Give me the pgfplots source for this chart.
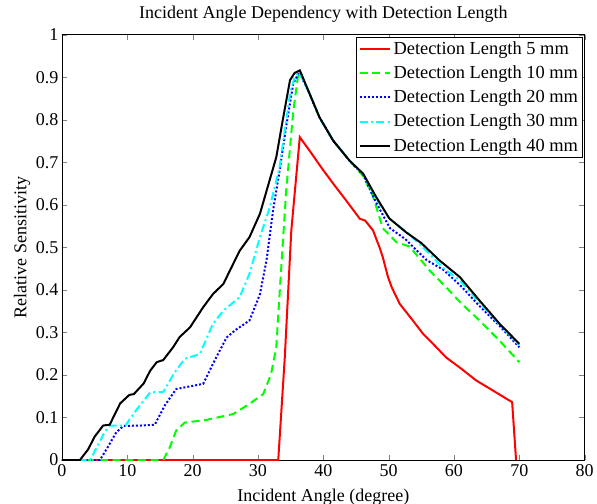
\documentclass[border=0pt]{standalone}
\usepackage{fontspec}
\setmainfont{Liberation Serif}
\usepackage{pgfplots}
\pgfplotsset{compat=1.18}
\definecolor{mgreen}{RGB}{0,255,0}
\definecolor{mcyan}{RGB}{0,255,255}
\definecolor{mblue}{RGB}{0,0,255}
\definecolor{mred}{RGB}{255,0,0}
\begin{document}
\begin{tikzpicture}
\path[use as bounding box] (-46.5pt,-33pt) rectangle (401.25pt,345pt);
\begin{axis}[
  at={(0,0)}, anchor=south west,
  width=392pt, height=319pt, scale only axis,
  xmin=0, xmax=80, ymin=0, ymax=1,
  xtick={0,10,...,80}, ytick={0,0.1,...,1},
  xticklabels={0,10,20,30,40,50,60,70,80},
  yticklabels={0,0.1,0.2,0.3,0.4,0.5,0.6,0.7,0.8,0.9,1},
  tick align=inside, tick pos=both,
  major tick length=4pt,
  /pgf/number format/assume math mode=true,
  tick label style={font=\fontsize{13.5}{15}\selectfont},
  yticklabel style={inner sep=1.5pt, xshift=-1pt},
  label style={font=\fontsize{13.5}{15}\selectfont},
  title style={font=\fontsize{13.5}{15}\selectfont, at={(0.5,1)}, anchor=base, yshift=6pt},
  title={Incident Angle Dependency with Detection Length},
  xlabel={Incident Angle (degree)},
  ylabel={Relative Sensitivity},
  xlabel style={at={(axis description cs:0.5,-0.098)}, anchor=base},
  ylabel style={at={(axis description cs:-0.068,0.5)}, anchor=base},
  legend style={at={(0.997,0.995)}, anchor=north east, font=\fontsize{13.8}{15}\selectfont,
    draw=black, line width=0.6pt, inner sep=1.5pt, row sep=3pt, cells={anchor=west}},
  legend image code/.code={\draw[#1] plot coordinates {(0cm,0cm)(0.8cm,0cm)};},
  legend cell align=left,
  axis line style={line width=0.6pt},
  every axis plot/.append style={line width=1.5pt},
]
\addplot[mred] coordinates {
(0,0)(33.1,0)(34.1,0.241)(35.1,0.54)(36.4,0.759)(38.0,0.725)(40.0,0.681)(42,0.640)(43.5,0.61)(45.6,0.567)(46.4,0.563)(47.6,0.54)(48.6,0.50)(49.1,0.477)(49.9,0.43)(50.5,0.405)(51.7,0.367)(53.7,0.328)(55.3,0.296)(56.3,0.281)(58.8,0.241)(61,0.216)(63.4,0.187)(66.0,0.163)(68.9,0.136)(69.5,0)
};
\addlegendentry{Detection Length 5 mm}
\addplot[mgreen, dash pattern=on 6pt off 3.5pt] coordinates {
(0,0)(15.5,0)(16.5,0.03)(17.5,0.07)(18.8,0.088)(22,0.094)(26.2,0.108)(28.7,0.132)(30.8,0.155)(32.0,0.202)(32.8,0.265)(33.3,0.39)(34.3,0.63)(35.4,0.82)(36.1,0.90)(36.5,0.912)(37.9,0.861)(39.4,0.806)(41.5,0.751)(44.0,0.704)(46.1,0.668)(47.6,0.62)(49.1,0.545)(51.2,0.512)(53.2,0.502)(56.3,0.445)(58.8,0.406)(61,0.37)(63.9,0.328)(67,0.28)(70,0.23)
};
\addlegendentry{Detection Length 10 mm}
\addplot[mblue, dash pattern=on 1.5pt off 1.5pt] coordinates {
(0,0)(5.8,0)(7,0.03)(8.3,0.065)(9.4,0.08)(12,0.081)(14.2,0.083)(15.8,0.13)(17.5,0.167)(21.6,0.179)(23.6,0.241)(25.2,0.288)(26.5,0.305)(28.7,0.328)(30.3,0.39)(31.3,0.469)(32.3,0.586)(33.3,0.68)(34.3,0.783)(35.4,0.885)(36.3,0.912)(37.9,0.861)(39.4,0.806)(41.5,0.751)(44.0,0.704)(46.1,0.670)(48.1,0.605)(50.2,0.545)(52.5,0.52)(55.8,0.470)(58.3,0.448)(61,0.41)(63.9,0.362)(67,0.315)(70,0.265)
};
\addlegendentry{Detection Length 20 mm}
\addplot[mcyan, dash pattern=on 6pt off 2.5pt on 1.5pt off 2.5pt] coordinates {
(0,0)(4.3,0)(5.5,0.035)(6.5,0.065)(7.3,0.081)(9.7,0.081)(11.5,0.12)(13.5,0.159)(15.5,0.16)(17.2,0.205)(18.8,0.238)(21.1,0.249)(23.1,0.32)(24.7,0.351)(27.2,0.383)(28.7,0.438)(30.3,0.524)(31.8,0.594)(33.3,0.688)(34.9,0.861)(35.6,0.90)(36.3,0.912)(37.9,0.861)(39.4,0.806)(41.5,0.751)(44.0,0.704)(46.1,0.672)(48.1,0.615)(50.1,0.568)(53.2,0.530)(56.3,0.484)(58.3,0.452)(60.9,0.422)(63.9,0.37)(67.0,0.318)(70,0.27)
};
\addlegendentry{Detection Length 30 mm}
\addplot[black] coordinates {
(0,0)(2.75,0)(4,0.025)(5,0.055)(6.3,0.081)(7.3,0.083)(8.9,0.133)(10.3,0.153)(11,0.155)(12.5,0.18)(13.5,0.21)(14.5,0.23)(15.5,0.235)(17,0.265)(18.0,0.289)(19.6,0.312)(21.6,0.359)(23.1,0.39)(24.7,0.414)(26.2,0.461)(27.2,0.492)(28.7,0.524)(30.3,0.579)(32.8,0.712)(33.8,0.80)(34.9,0.893)(35.6,0.91)(36.4,0.916)(37.9,0.861)(39.4,0.806)(41.5,0.751)(44.0,0.704)(46.1,0.673)(48.1,0.618)(50.1,0.568)(52.7,0.535)(55,0.51)(57.8,0.469)(60.9,0.430)(63.9,0.375)(67.0,0.32)(70,0.273)
};
\addlegendentry{Detection Length 40 mm}
\end{axis}
\end{tikzpicture}
\end{document}
